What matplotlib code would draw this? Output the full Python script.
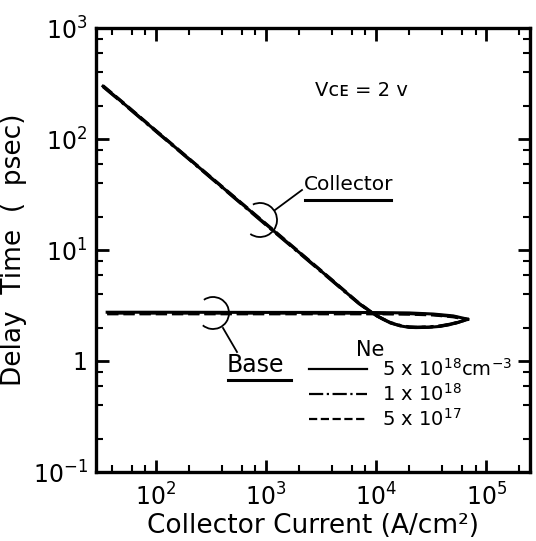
import numpy as np
import matplotlib
matplotlib.use('Agg')
import matplotlib.pyplot as plt
from matplotlib.patches import Arc
from matplotlib.lines import Line2D
from matplotlib.ticker import LogLocator, FixedLocator, FixedFormatter

plt.rcParams['font.family'] = ['DejaVu Sans']
plt.rcParams['mathtext.fontset'] = 'dejavusans'

# collector current (A/cm2) and delay times (psec)
current_c = [33, 50, 100, 200, 500, 1000, 2000, 4000, 6000, 7000, 8000, 9000, 10000, 11500,
             13500, 16600, 20000, 23000, 30000, 38000, 46000, 55000, 68000]
collector_5e18 = [299, 212, 118, 66, 30.5, 17, 9.5, 5.3, 3.75, 3.3, 3.0, 2.75, 2.57, 2.38,
                  2.2, 2.07, 2.01, 2.0, 2.01, 2.05, 2.12, 2.22, 2.37]
collector_1e18 = [296, 210, 117, 65.5, 30.2, 16.8, 9.4, 5.25, 3.73, 3.28, 2.99, 2.75, 2.57, 2.39,
                  2.22, 2.09, 2.03, 2.02, 2.03, 2.07, 2.14, 2.23, 2.38]
collector_5e17 = [302, 214, 119, 66.5, 30.8, 17.2, 9.6, 5.35, 3.78, 3.32, 3.02, 2.77, 2.58, 2.4,
                  2.21, 2.08, 2.02, 2.01, 2.02, 2.06, 2.13, 2.22, 2.39]

current_b = [36, 100, 1000, 5000, 10000, 20000, 33000, 50000, 68000]
base_5e18 = [2.75, 2.75, 2.74, 2.74, 2.73, 2.71, 2.65, 2.55, 2.38]
base_1e18 = [2.70, 2.70, 2.70, 2.70, 2.69, 2.67, 2.62, 2.52, 2.37]
base_5e17 = [2.66, 2.66, 2.66, 2.66, 2.66, 2.64, 2.60, 2.50, 2.36]

ne_labels = [r'5 x 10$^{18}$cm$^{-3}$', r'1 x 10$^{18}$', r'5 x 10$^{17}$']
styles = ['-', '-.', '--']

W, H = 536, 541
fig = plt.figure(figsize=(W / 100, H / 100), dpi=100)
ax = fig.add_axes([96 / W, 1 - 472 / H, (530 - 96) / W, (472 - 28) / H])

lw = 2.2
handles = []
for cs, bs, ls, lab in zip([collector_5e18, collector_1e18, collector_5e17],
                           [base_5e18, base_1e18, base_5e17], styles, ne_labels):
    ax.plot(current_c, cs, color='black', ls=ls, lw=lw)
    ax.plot(current_b, bs, color='black', ls=ls, lw=lw)
    handles.append(Line2D([], [], color='black', ls=ls, lw=1.6))

ax.set_xscale('log')
ax.set_yscale('log')
ax.set_xlim(28.5, 2.5e5)
ax.set_ylim(0.1, 1000)

ax.xaxis.set_major_locator(FixedLocator([1e2, 1e3, 1e4, 1e5]))
ax.xaxis.set_major_formatter(FixedFormatter([r'$10^{2}$', r'$10^{3}$', r'$10^{4}$', r'$10^{5}$']))
ax.yaxis.set_major_locator(FixedLocator([0.1, 1, 10, 100, 1000]))
ax.yaxis.set_major_formatter(FixedFormatter([r'$10^{-1}$', '1', r'$10^{1}$', r'$10^{2}$', r'$10^{3}$']))
ax.xaxis.set_minor_locator(LogLocator(base=10, subs=[2, 4, 6, 8]))
ax.yaxis.set_minor_locator(LogLocator(base=10, subs=[2, 4, 6, 8]))
ax.xaxis.set_minor_formatter(FixedFormatter([]))
ax.yaxis.set_minor_formatter(FixedFormatter([]))

ax.tick_params(which='both', direction='in', top=True, right=True, labelsize=17)
ax.tick_params(which='major', length=9, width=2)
ax.tick_params(which='minor', length=5, width=1.5)
ax.tick_params(axis='x', pad=8)
ax.tick_params(axis='y', pad=6)
for s in ax.spines.values():
    s.set_linewidth(2.4)

ax.set_xlabel('Collector Current (A/cm²)', fontsize=19, labelpad=2)
ax.set_ylabel('Delay  Time  (  psec)', fontsize=19, labelpad=4)

ax.text(0.505, 0.86, 'Vᴄᴇ = 2 v', transform=ax.transAxes, fontsize=14, va='center')

leg = ax.legend(handles, ne_labels, loc='upper left', bbox_to_anchor=(0.49, 0.258),
                frameon=False, fontsize=14, handlelength=3.0, handletextpad=0.75,
                borderpad=0, borderaxespad=0, labelspacing=0.18)
ax.text(0.6, 0.275, 'Ne', transform=ax.transAxes, fontsize=15, va='center')


def fx(x):
    return x / W


def fy(y):
    return 1 - y / H


def arc(cx, cy, r, t1, t2):
    fig.add_artist(Arc((fx(cx), fy(cy)), 2 * r / W, 2 * r / H, theta1=t1, theta2=t2,
                       transform=fig.transFigure, color='black', lw=1.3))


def seg(x0, y0, x1, y1, lw=1.3):
    fig.add_artist(Line2D([fx(x0), fx(x1)], [fy(y0), fy(y1)],
                          transform=fig.transFigure, color='black', lw=lw))


# Collector annotation
arc(260, 220, 17, -125, 115)
seg(275, 210, 302, 190)
fig.text(fx(304), fy(185), 'Collector', fontsize=14.5, va='center', ha='left')
seg(305, 200, 391, 200, lw=2.2)

# Base annotation
arc(213, 313, 16, -130, 125)
seg(223, 328, 237, 352)
fig.text(fx(227), fy(365), 'Base', fontsize=17, va='center', ha='left')
seg(228, 380, 291, 380, lw=2.2)

fig.savefig('out.png', dpi=100)
